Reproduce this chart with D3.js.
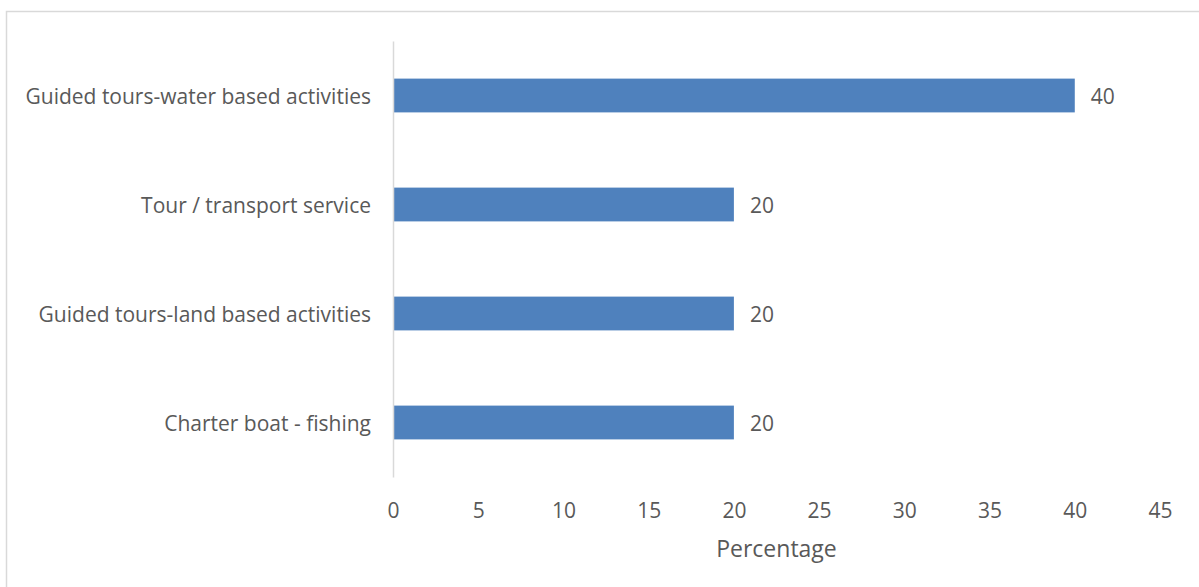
<!DOCTYPE html>
<html>
<head>
<meta charset="utf-8">
<script src="https://cdn.jsdelivr.net/npm/d3@7"></script>
<style>
  html, body { margin: 0; padding: 0; background: #fff; }
  svg { display: block; }
  text { font-family: "Open Sans", "Liberation Sans", sans-serif; fill: #595959; }
</style>
</head>
<body>
<svg id="chart" width="1199" height="587"></svg>
<script>
// Activity categories, listed top to bottom
const categories = [
  "Guided tours-water based activities",
  "Tour / transport service",
  "Guided tours-land based activities",
  "Charter boat - fishing"
];
// Share of respondents (%)
const values = [40, 20, 20, 20];
const xTicks = [0, 5, 10, 15, 20, 25, 30, 35, 40, 45];
const xTitle = "Percentage";

const svg = d3.select("#chart");
const W = 1199, H = 587;
const margin = { left: 393, right: 39, top: 41, bottom: 110 };

// Chart area frame
svg.append("rect")
  .attr("x", 6.5).attr("y", 11.5)
  .attr("width", W + 10).attr("height", H + 10)
  .attr("fill", "none").attr("stroke", "#d9d9d9").attr("stroke-width", 1.5);

const x = d3.scaleLinear().domain([0, 45]).range([margin.left, W - margin.right]);
const y = d3.scaleBand().domain(categories)
  .range([margin.top, H - margin.bottom])
  .paddingInner(0.69).paddingOuter(0.345);

// Bars
svg.append("g").selectAll("rect")
  .data(categories)
  .join("rect")
  .attr("x", x(0))
  .attr("y", d => y(d))
  .attr("width", (d, i) => x(values[i]) - x(0))
  .attr("height", y.bandwidth())
  .attr("fill", "#4f81bd");

// Value labels
svg.append("g").selectAll("text")
  .data(categories)
  .join("text")
  .attr("x", (d, i) => x(values[i]) + 16)
  .attr("y", d => y(d) + y.bandwidth() / 2 + 1)
  .attr("dy", "0.35em")
  .style("font-size", "21px")
  .text((d, i) => values[i]);

// Vertical category axis
const yAxis = svg.append("g")
  .attr("transform", `translate(${x(0)},0)`)
  .call(d3.axisLeft(y).tickSize(0).tickPadding(22));
yAxis.select(".domain").attr("stroke", "#d9d9d9").attr("stroke-width", 1.5);
yAxis.selectAll("text").style("font-size", "21px").attr("fill", "#595959")
  .attr("dy", "0.42em");

// Horizontal value axis (labels only)
const xAxis = svg.append("g")
  .attr("transform", `translate(0,${H - margin.bottom})`)
  .call(d3.axisBottom(x).tickValues(xTicks).tickSize(0).tickPadding(26));
xAxis.select(".domain").remove();
xAxis.selectAll("text").style("font-size", "21px").attr("fill", "#595959");

// Axis title
svg.append("text")
  .attr("x", (x(0) + x(45)) / 2)
  .attr("y", 549)
  .attr("dy", "0.35em")
  .attr("text-anchor", "middle")
  .style("font-size", "23px")
  .text(xTitle);
</script>
</body>
</html>
